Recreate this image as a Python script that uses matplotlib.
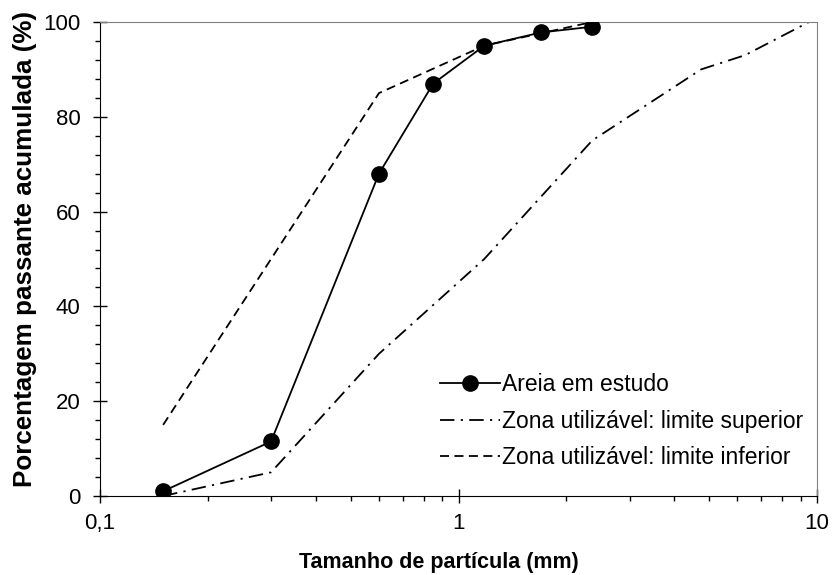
import matplotlib
matplotlib.use('Agg')
from matplotlib import pyplot as plt
from matplotlib.ticker import FixedLocator, MultipleLocator, FuncFormatter

plt.rcParams['font.family'] = ['Liberation Sans', 'DejaVu Sans']

# dados da curva granulométrica
peneiras_areia = [0.15, 0.3, 0.6, 0.85, 1.18, 1.7, 2.36]
passante_areia = [1, 11.5, 68, 87, 95, 97.8, 99]

peneiras_sup = [0.15, 0.3, 0.6, 1.18, 2.36, 4.75, 6.3, 9.5]
passante_sup = [0, 5, 30, 50, 75, 90, 93, 100]

peneiras_inf = [0.15, 0.3, 0.6, 1.18, 2.36, 4.75, 6.3, 9.5]
passante_inf = [15, 50, 85, 95, 100, 100, 100, 100]

rotulos_x = {0.1: '0,1', 1: '1', 10: '10'}

fig = plt.figure(figsize=(8.32, 5.75), dpi=100)
ax = fig.add_axes([100 / 832, 1 - 496 / 575, 717 / 832, 474 / 575])

ax.plot(peneiras_areia, passante_areia, color='black', linewidth=1.3, marker='o',
        markersize=11, label='Areia em estudo', zorder=3)
ax.plot(peneiras_sup, passante_sup, color='black', linewidth=1.3,
        dashes=[8, 3.5, 1.2, 3.5], label='Zona utilizável: limite superior')
ax.plot(peneiras_inf, passante_inf, color='black', linewidth=1.3,
        dashes=[5, 3], label='Zona utilizável: limite inferior')

ax.set_xscale('log')
ax.set_xlim(0.1, 10)
ax.set_ylim(0, 100)
ax.xaxis.set_major_locator(FixedLocator([0.1, 1, 10]))
ax.xaxis.set_major_formatter(FuncFormatter(lambda v, p: rotulos_x.get(round(v, 3), '')))
ax.yaxis.set_major_locator(MultipleLocator(20))
ax.yaxis.set_minor_locator(MultipleLocator(4))

ax.tick_params(which='major', direction='inout', length=10, width=1, labelsize=16)
ax.tick_params(axis='y', which='major', pad=9)
ax.tick_params(axis='x', which='major', pad=7)
ax.tick_params(which='minor', direction='out', length=3.6, width=1)

ax.spines['top'].set_color('#808080')
ax.spines['right'].set_color('#808080')
ax.spines['left'].set_color('black')
ax.spines['bottom'].set_color('black')

ax.set_xlabel('Tamanho de partícula (mm)', fontsize=15.5, fontweight='bold')
ax.set_ylabel('Porcentagem passante acumulada (%)', fontsize=18.7, fontweight='bold')
ax.xaxis.set_label_coords(0.473, -0.118)
ax.yaxis.set_label_coords(-0.088, 0.521)

ax.legend(loc='upper left', bbox_to_anchor=(440 / 832, 1 - 373 / 575),
          bbox_transform=fig.transFigure, frameon=False, fontsize=16.5,
          borderpad=0, borderaxespad=0, handlelength=2.6, handletextpad=0.1,
          labelspacing=0.6)

fig.savefig('out.png', dpi=100)
